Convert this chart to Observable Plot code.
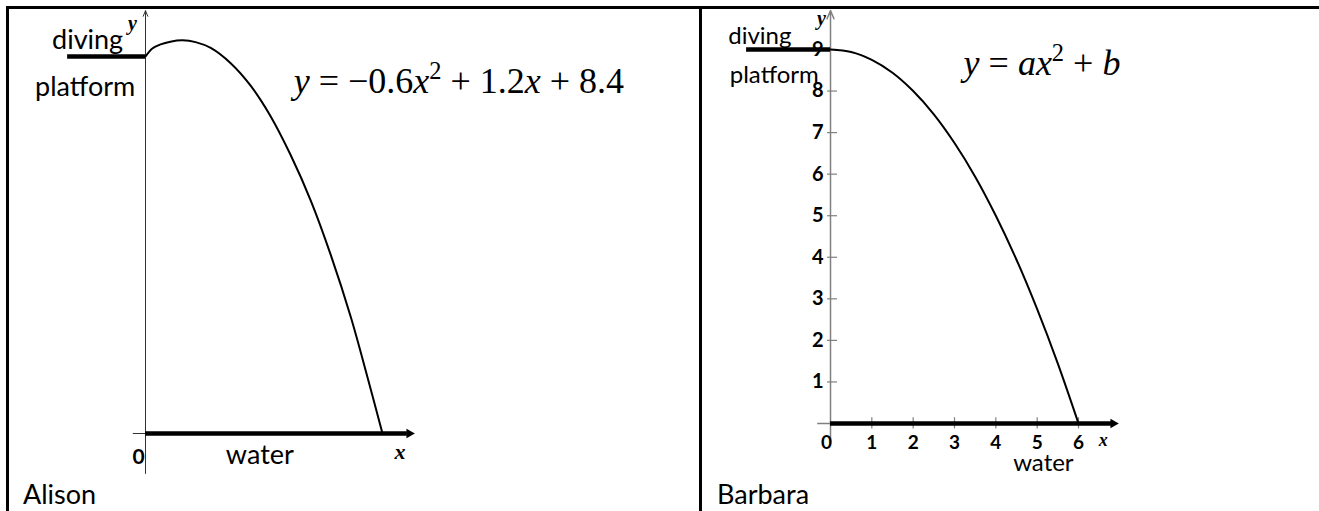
<!DOCTYPE html>
<html><head><meta charset="utf-8">
<script src="https://cdn.jsdelivr.net/npm/d3@7"></script>
<script src="https://cdn.jsdelivr.net/npm/@observablehq/plot@0.6"></script>
<style>
body{margin:0;background:#fff;}
#wrap{position:relative;width:1319px;height:511px;overflow:hidden;background:#fff;}
.b{position:absolute;background:#000;}
.name{position:absolute;font-family:Lato,sans-serif;font-size:27px;line-height:27px;color:#000;white-space:nowrap;}
.panel{position:absolute;top:0;}
</style></head><body>
<div id="wrap">
  <div class="panel" id="left" style="left:0"></div>
  <div class="panel" id="right" style="left:700px"></div>
  <div class="b" style="left:6px;top:6px;width:1313px;height:3px"></div>
  <div class="b" style="left:6px;top:6px;width:3px;height:505px"></div>
  <div class="b" style="left:699px;top:6px;width:3px;height:505px"></div>
  <div class="name" id="n0" style="left:23px;top:480px"></div>
  <div class="name" id="n1" style="left:717px;top:480px"></div>
</div>
<script>
// ---- data ----
const names = ["Alison", "Barbara"];
const equations = ["y = −0.6x² + 1.2x + 8.4", "y = ax² + b"];
const labels = ["diving", "platform", "water"];
// Alison's dive
const aliX = [0, 0.14, 0.31, 0.51, 0.76, 1.03, 1.34, 1.75, 2.16, 2.57, 2.98, 3.40, 3.81, 4.22, 4.56, 4.87];
const aliY = [8.4, 8.58, 8.67, 8.73, 8.76, 8.72, 8.59, 8.25, 7.75, 7.07, 6.21, 5.18, 3.97, 2.59, 1.26, 0];
// Barbara's dive
const barX = [0, 0.5, 1, 1.5, 2, 2.5, 3, 3.5, 4, 4.5, 5, 5.5, 6];
const barY = [9, 8.94, 8.75, 8.44, 8, 7.44, 6.75, 5.94, 5, 3.94, 2.75, 1.44, 0];
const xTicks = [0, 1, 2, 3, 4, 5, 6];
const yTicks = [1, 2, 3, 4, 5, 6, 7, 8, 9];
const platformLeft = 8.4, platformRight = 9;

const aliPts = aliX.map((x, i) => ({x, y: aliY[i]}));
const barPts = barX.map((x, i) => ({x, y: barY[i]}));

document.getElementById("n0").textContent = names[0];
document.getElementById("n1").textContent = names[1];

const sans = "Lato, 'Open Sans', sans-serif";
const serif = "'Liberation Serif', 'Times New Roman', serif";

function mathify(svg, str, supShift) {
  d3.select(svg).selectAll("text").filter(function () { return this.textContent === str; }).each(function () {
    const t = d3.select(this);
    t.text(null).style("white-space", "pre");
    const runs = [];
    for (const ch of str) {
      const kind = ch === "²" ? "sup" : (/[a-z]/.test(ch) ? "it" : "rm");
      if (runs.length && runs[runs.length - 1].kind === kind && kind !== "sup") runs[runs.length - 1].s += ch;
      else runs.push({kind, s: ch === "²" ? "2" : ch});
    }
    let raised = false;
    for (const r of runs) {
      const s = t.append("tspan").text(r.s);
      if (r.kind === "sup") { s.attr("dy", -supShift).attr("font-size", "0.68em"); raised = true; continue; }
      if (raised) { s.attr("dy", supShift); raised = false; }
      if (r.kind === "it") s.attr("font-style", "italic");
    }
  });
}

// ---- Alison ----
const left = Plot.plot({
  width: 700, height: 511,
  marginLeft: 145, marginRight: 318, marginTop: 56, marginBottom: 78,
  x: {domain: [0, 4.87], axis: null},
  y: {domain: [0, 8.4], axis: null},
  style: {fontFamily: sans, background: "transparent", color: "#000"},
  marks: [
    Plot.arrow([0], {x1: 0, x2: 0, y1: -0.89, y2: 9.42, headLength: 9, headAngle: 45, stroke: "#333", strokeWidth: 1}),
    Plot.ruleY([0], {x1: -0.25, x2: 5.45, stroke: "#333", strokeWidth: 1}),
    Plot.ruleY([0], {x1: 0, x2: 5.38, stroke: "#000", strokeWidth: 4.5}),
    Plot.dot([0], {x: 5.42, y: 0, symbol: "triangle", rotate: 90, r: 3.6, fill: "#000", stroke: null}),
    Plot.ruleY([platformLeft], {x1: -1.6, x2: 0, stroke: "#000", strokeWidth: 4.5}),
    Plot.line(aliPts, {x: "x", y: "y", curve: "catmull-rom", stroke: "#000", strokeWidth: 2}),
    Plot.text([labels[0]], {x: -1.19, y: platformLeft, dy: -8, text: d => d, lineAnchor: "bottom", fontSize: 27, fontFamily: sans}),
    Plot.text([labels[1]], {x: -1.24, y: platformLeft, dy: 39, text: d => d, lineAnchor: "bottom", fontSize: 27, fontFamily: sans}),
    Plot.text([labels[2]], {x: 2.35, y: 0, dy: 30, text: d => d, lineAnchor: "bottom", fontSize: 27, fontFamily: sans}),
    Plot.text([0], {x: 0, y: 0, dx: -7, dy: 30, text: d => String(d), lineAnchor: "bottom", fontSize: 21, fontWeight: "bold", fontFamily: sans}),
    Plot.text(["x"], {x: 5.23, y: 0, dy: 25, text: d => d, lineAnchor: "bottom", fontSize: 22, fontStyle: "italic", fontWeight: "bold", fontFamily: serif}),
    Plot.text(["y"], {x: 0, y: 8.98, dx: -13, text: d => d, lineAnchor: "bottom", fontSize: 20, fontStyle: "italic", fontWeight: "bold", fontFamily: serif}),
    Plot.text([equations[0]], {x: 3.045, y: 7.58, text: d => d, textAnchor: "start", lineAnchor: "bottom", fontSize: 36, fontFamily: serif})
  ]
});
mathify(left, equations[0], 14);
document.getElementById("left").append(left);

// ---- Barbara ----
const right = Plot.plot({
  width: 619, height: 511,
  marginLeft: 130, marginRight: 241, marginTop: 49, marginBottom: 88,
  x: {domain: [0, 6], axis: null},
  y: {domain: [0, 9], axis: null},
  style: {fontFamily: sans, background: "transparent", color: "#000"},
  marks: [
    Plot.arrow([0], {x1: 0, x2: 0, y1: -0.45, y2: 9.94, headLength: 9, headAngle: 45, stroke: "#808080", strokeWidth: 1.5}),
    Plot.ruleY([0], {x1: -0.31, x2: 6.9, stroke: "#808080", strokeWidth: 1.5}),
    Plot.ruleY(yTicks, {y: d => d, x1: -0.07, x2: 0.17, stroke: "#808080", strokeWidth: 1.2}),
    Plot.ruleX(xTicks.slice(1), {x: d => d, y1: -0.13, y2: 0.14, stroke: "#808080", strokeWidth: 1.2}),
    Plot.ruleY([0], {x1: 0, x2: 6.8, stroke: "#000", strokeWidth: 4.5}),
    Plot.dot([0], {x: 6.84, y: 0, symbol: "triangle", rotate: 90, r: 3.6, fill: "#000", stroke: null}),
    Plot.ruleY([platformRight], {x1: -2.03, x2: 0, stroke: "#000", strokeWidth: 4.5}),
    Plot.line(barPts, {x: "x", y: "y", curve: "catmull-rom", stroke: "#000", strokeWidth: 2}),
    Plot.text(yTicks, {x: 0, y: d => d, dx: -7, text: d => String(d), textAnchor: "end", lineAnchor: "middle", fontSize: 20, fontWeight: "bold", fontFamily: sans}),
    Plot.text(xTicks.slice(1), {x: d => d, y: 0, dy: 25, text: d => String(d), lineAnchor: "bottom", fontSize: 19, fontWeight: "bold", fontFamily: sans}),
    Plot.text(xTicks.slice(0, 1), {x: d => d, y: 0, dx: -4, dy: 25, text: d => String(d), lineAnchor: "bottom", fontSize: 19, fontWeight: "bold", fontFamily: sans}),
    Plot.text([labels[0]], {x: -1.71, y: platformRight, dy: -6, text: d => d, lineAnchor: "bottom", fontSize: 24, fontFamily: sans}),
    Plot.text([labels[1]], {x: -1.36, y: platformRight, dy: 33, text: d => d, lineAnchor: "bottom", fontSize: 24, fontFamily: sans}),
    Plot.text([labels[2]], {x: 5.15, y: 0, dy: 47, text: d => d, lineAnchor: "bottom", fontSize: 24, fontFamily: sans}),
    Plot.text(["x"], {x: 6.6, y: 0, dy: 22, text: d => d, lineAnchor: "bottom", fontSize: 18, fontStyle: "italic", fontWeight: "bold", fontFamily: serif}),
    Plot.text(["y"], {x: 0, y: 9, dx: -9, dy: -25, text: d => d, lineAnchor: "bottom", fontSize: 20, fontStyle: "italic", fontWeight: "bold", fontFamily: serif}),
    Plot.text([equations[1]], {x: 3.22, y: 8.38, text: d => d, textAnchor: "start", lineAnchor: "bottom", fontSize: 36, fontFamily: serif})
  ]
});
mathify(right, equations[1], 14);
document.getElementById("right").append(right);
</script>
</body></html>
